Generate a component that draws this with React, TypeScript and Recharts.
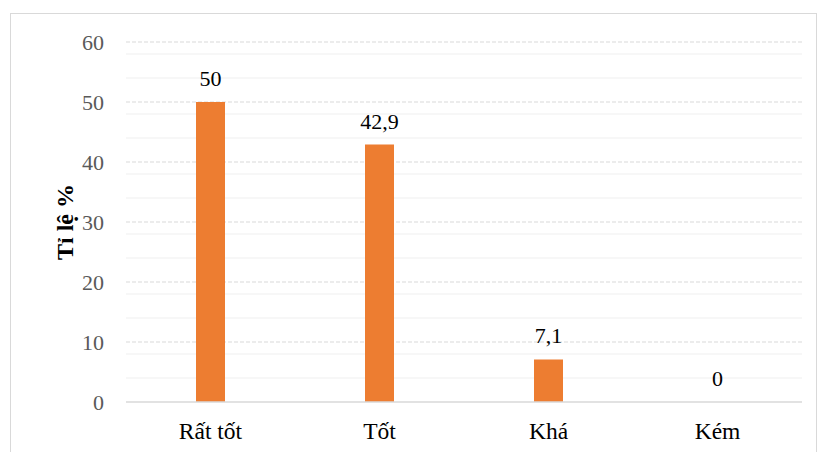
import React from 'react';
import {
  ComposedChart, Bar, Line, XAxis, YAxis, CartesianGrid, LabelList, Label
} from 'recharts';

// Dữ liệu biểu đồ
const categories = ['Rất tốt', 'Tốt', 'Khá', 'Kém'];
const values = [50, 42.9, 7.1, 0];
const yTicks = [0, 10, 20, 30, 40, 50, 60];
const minorTicks = [2, 4, 6, 8, 12, 14, 16, 18, 22, 24, 26, 28, 32, 34, 36, 38, 42, 44, 46, 48, 52, 54, 56, 58];

const data = categories.map((name, i) => ({ name, value: values[i] }));

const font = 'Liberation Serif, Times New Roman, DejaVu Serif, serif';

const formatVi = (v: any): string => String(v).replace('.', ',');

// Nhãn giá trị trên cột (vẽ cả khi giá trị bằng 0)
const ValueLabel = (props: any) => {
  const { x, y, value } = props;
  return (
    <text
      x={Number(x)}
      y={Number(y) - 16}
      textAnchor="middle"
      fill="#000"
      fontSize={22}
      fontFamily={font}
    >
      {formatVi(value)}
    </text>
  );
};

const App: React.FC = () => {
  return (
    <div style={{ position: 'fixed', left: 0, top: 0, width: 818, height: 452, background: '#fff', fontFamily: font }}>
      <div style={{ position: 'absolute', left: 10, top: 13, width: 805, height: 445, border: '1.5px solid #d9d9d9' }} />
      <ComposedChart
        width={818}
        height={452}
        data={data}
        margin={{ top: 42, right: 16, bottom: 20, left: 0 }}
        style={{ position: 'absolute', left: 0, top: 0, fontFamily: font }}
      >
        <CartesianGrid vertical={false} horizontalValues={minorTicks} stroke="#efefef" strokeWidth={1} />
        <CartesianGrid vertical={false} horizontalValues={[10, 20, 30, 40, 50, 60]} stroke="#d9d9d9" strokeDasharray="4 2" strokeWidth={1} />
        <XAxis
          dataKey="name"
          axisLine={{ stroke: '#d9d9d9', strokeWidth: 1.5 }}
          tickLine={false}
          tickMargin={14}
          tick={{ fill: '#000', fontSize: 23.5, fontFamily: font }}
        />
        <YAxis
          width={126}
          domain={[0, 60]}
          ticks={yTicks}
          axisLine={false}
          tickLine={false}
          tickMargin={16}
          tick={{ fill: '#595959', fontSize: 22, fontFamily: font }}
        >
          <Label
            value="Tỉ lệ %"
            angle={-90}
            position="center"
            dx={1}
            style={{ fill: '#000', fontSize: 24, fontWeight: 'bold', fontFamily: font }}
          />
        </YAxis>
        <Bar dataKey="value" fill="#ED7D31" barSize={29} isAnimationActive={false} />
        <Line dataKey="value" stroke="none" dot={false} activeDot={false} legendType="none" isAnimationActive={false}>
          <LabelList dataKey="value" content={ValueLabel} />
        </Line>
      </ComposedChart>
    </div>
  );
};

export default App;
